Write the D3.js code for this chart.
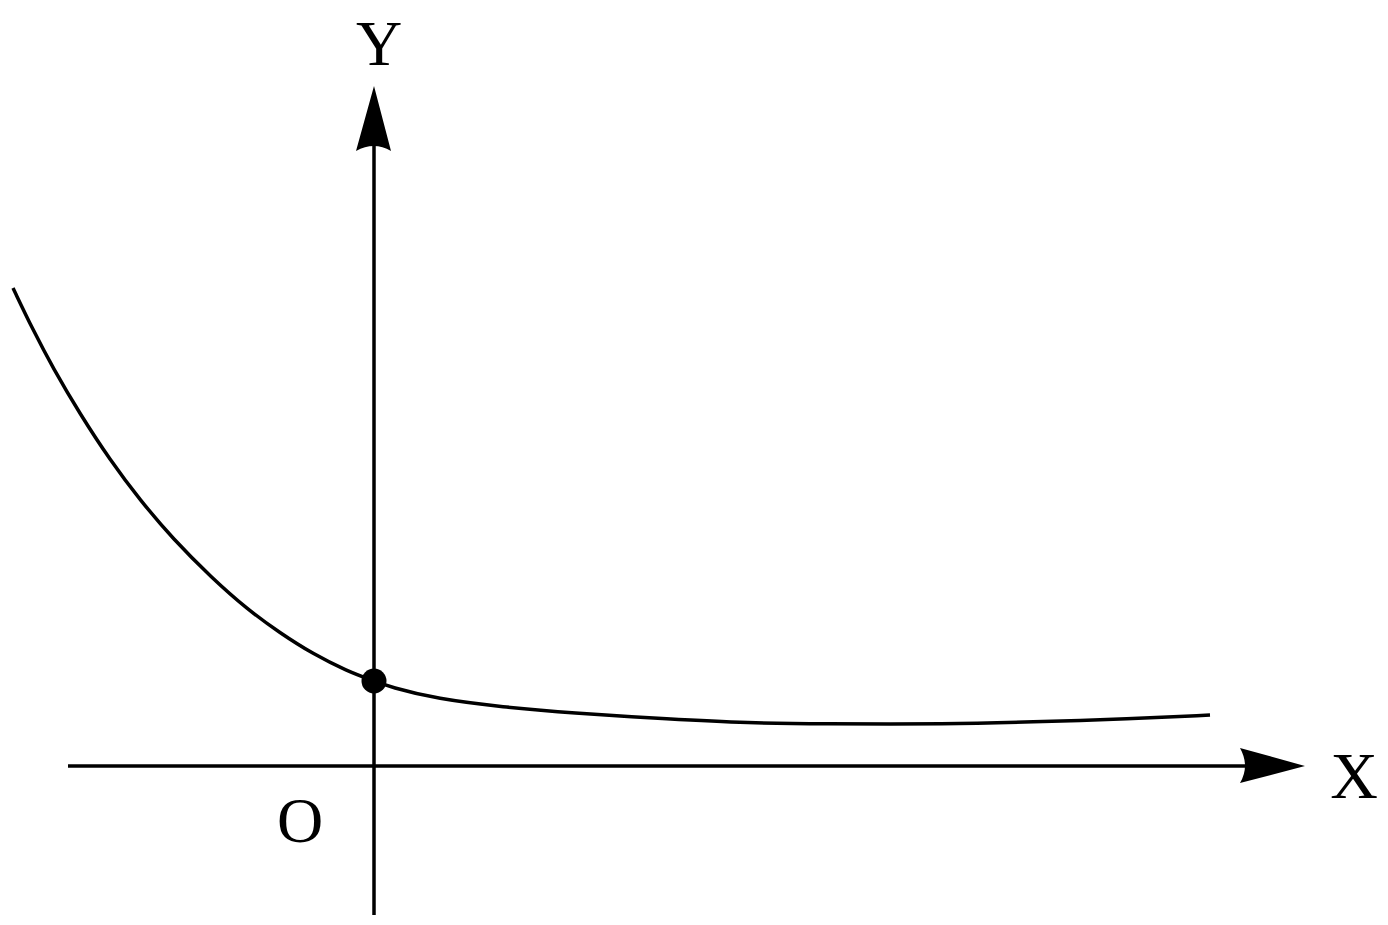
<!DOCTYPE html>
<html>
<head>
<meta charset="utf-8">
<script src="https://cdn.jsdelivr.net/npm/d3@7"></script>
<style>
html,body{margin:0;padding:0;background:#fff;}
svg{display:block;}
</style>
</head>
<body>
<svg id="chart" width="1388" height="925"></svg>
<script>
// curve samples (x, y) in axis units
const curveX = [-3.61, -3.41, -3.21, -2.94, -2.64, -2.34, -2.01, -1.62, -1.27, -0.94, -0.61, -0.27, 0, 0.16, 0.63, 1.29, 1.96, 2.96, 3.76, 4.43, 5.76, 6.56, 7.56, 8.36];
const curveY = [4.78, 4.36, 3.98, 3.52, 3.06, 2.66, 2.27, 1.88, 1.57, 1.33, 1.12, 0.95, 0.85, 0.79, 0.67, 0.59, 0.53, 0.47, 0.43, 0.42, 0.42, 0.44, 0.47, 0.51];
// highlighted point (y-intercept)
const pointX = [0];
const pointY = [0.85];
// axis extents in units
const xAxisExtent = [-3.06, 9.31];
const yAxisExtent = [-1.49, 6.8];
const axisLabels = ["X", "Y", "O"];

const svg = d3.select("#chart");
const x = d3.scaleLinear().domain([0, 1]).range([374, 474]);
const y = d3.scaleLinear().domain([0, 1]).range([766, 666]);
const SW = 3.5;

// X axis
const xTip = x(xAxisExtent[1]);
svg.append("line")
  .attr("x1", x(xAxisExtent[0])).attr("y1", y(0))
  .attr("x2", xTip - 55).attr("y2", y(0))
  .attr("stroke", "#000").attr("stroke-width", SW);
svg.append("path")
  .attr("d", `M${xTip},${y(0)} L${xTip-65},${y(0)-18} Q${xTip-55},${y(0)} ${xTip-65},${y(0)+17} Z`)
  .attr("fill", "#000");

// Y axis
const yTip = y(yAxisExtent[1]);
svg.append("line")
  .attr("x1", x(0)).attr("y1", y(yAxisExtent[0]))
  .attr("x2", x(0)).attr("y2", yTip + 55)
  .attr("stroke", "#000").attr("stroke-width", SW);
svg.append("path")
  .attr("d", `M${x(0)},${yTip} L${x(0)-18},${yTip+65} Q${x(0)},${yTip+55} ${x(0)+17},${yTip+65} Z`)
  .attr("fill", "#000");

// curve
const pts = curveX.map((d, i) => [d, curveY[i]]);
const line = d3.line().x(d => x(d[0])).y(d => y(d[1])).curve(d3.curveBasis);
svg.append("path")
  .attr("d", line(pts))
  .attr("fill", "none")
  .attr("stroke", "#000")
  .attr("stroke-width", SW);

// point
svg.selectAll("circle.pt").data(pointX).enter().append("circle")
  .attr("class", "pt")
  .attr("cx", (d) => x(d))
  .attr("cy", (d, i) => y(pointY[i]))
  .attr("r", 12.5)
  .attr("fill", "#000");

// labels
const font = "'Liberation Serif','Times New Roman',serif";
svg.append("text").text(axisLabels[0])
  .attr("x", 1354).attr("y", 798)
  .attr("text-anchor", "middle")
  .attr("font-family", font).attr("font-size", 66).attr("fill", "#000");
svg.append("text").text(axisLabels[1])
  .attr("x", 379).attr("y", 65)
  .attr("text-anchor", "middle")
  .attr("font-family", font).attr("font-size", 64).attr("fill", "#000");
svg.append("text").text(axisLabels[2])
  .attr("x", 300).attr("y", 842)
  .attr("text-anchor", "middle")
  .attr("font-family", font).attr("font-size", 64).attr("fill", "#000");
</script>
</body>
</html>
